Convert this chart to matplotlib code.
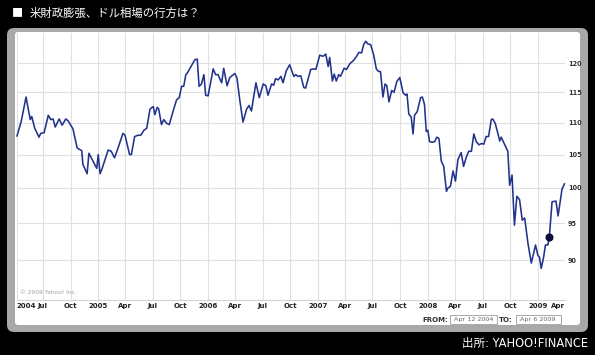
import matplotlib
matplotlib.use("Agg")
import matplotlib.pyplot as plt
import matplotlib.dates as mdates
from matplotlib.patches import FancyBboxPatch, Rectangle
from matplotlib.ticker import FixedLocator, NullLocator, FixedFormatter
import pandas as pd

plt.rcParams["font.family"] = ["DejaVu Sans"]
JP = ["Noto Sans CJK JP", "DejaVu Sans"]

# weekly USD/JPY closes (turning points)
dates = [
    "2004-04-06", "2004-04-20", "2004-05-06", "2004-05-20", "2004-05-25", "2004-06-04",
    "2004-06-18", "2004-06-24", "2004-07-05", "2004-07-19", "2004-07-27", "2004-08-04",
    "2004-08-11", "2004-08-24", "2004-09-03", "2004-09-15", "2004-09-23", "2004-10-09",
    "2004-10-23", "2004-11-07", "2004-11-11", "2004-11-25", "2004-12-01", "2004-12-18",
    "2004-12-27", "2005-01-01", "2005-01-07", "2005-01-14", "2005-02-03", "2005-02-13",
    "2005-02-24", "2005-03-07", "2005-03-24", "2005-03-31", "2005-04-15", "2005-04-21",
    "2005-05-02", "2005-05-13", "2005-05-22", "2005-06-02", "2005-06-11", "2005-06-22",
    "2005-06-29", "2005-07-03", "2005-07-08", "2005-07-16", "2005-07-21", "2005-07-30",
    "2005-08-07", "2005-08-16", "2005-08-25", "2005-09-07", "2005-09-18", "2005-09-27",
    "2005-10-05", "2005-10-12", "2005-10-19", "2005-10-23", "2005-11-05", "2005-11-18",
    "2005-11-26", "2005-12-02", "2005-12-10", "2005-12-18", "2005-12-24", "2006-01-01",
    "2006-01-18", "2006-01-26", "2006-02-03", "2006-02-15", "2006-02-22", "2006-03-05",
    "2006-03-14", "2006-03-31", "2006-04-07", "2006-04-16", "2006-04-27", "2006-05-09",
    "2006-05-17", "2006-05-25", "2006-06-09", "2006-06-20", "2006-07-03", "2006-07-12",
    "2006-07-19", "2006-07-31", "2006-08-07", "2006-08-13", "2006-08-22", "2006-08-31",
    "2006-09-07", "2006-09-18", "2006-09-29", "2006-10-13", "2006-10-19", "2006-10-27",
    "2006-11-05", "2006-11-15", "2006-11-21", "2006-12-08", "2006-12-18", "2006-12-25",
    "2007-01-07", "2007-01-18", "2007-01-27", "2007-02-04", "2007-02-09", "2007-02-18",
    "2007-02-24", "2007-03-03", "2007-03-11", "2007-03-17", "2007-03-29", "2007-04-06",
    "2007-04-17", "2007-04-28", "2007-05-07", "2007-05-17", "2007-05-26", "2007-06-02",
    "2007-06-09", "2007-06-16", "2007-06-25", "2007-07-05", "2007-07-14", "2007-07-20",
    "2007-07-28", "2007-08-05", "2007-08-12", "2007-08-18", "2007-08-25", "2007-09-03",
    "2007-09-11", "2007-09-20", "2007-09-30", "2007-10-11", "2007-10-20", "2007-10-24",
    "2007-10-30", "2007-11-07", "2007-11-13", "2007-11-18", "2007-11-27", "2007-12-08",
    "2007-12-14", "2007-12-21", "2007-12-27", "2008-01-01", "2008-01-07", "2008-01-16",
    "2008-01-24", "2008-01-31", "2008-02-07", "2008-02-15", "2008-02-23", "2008-03-03",
    "2008-03-08", "2008-03-16", "2008-03-25", "2008-04-02", "2008-04-10", "2008-04-21",
    "2008-04-29", "2008-05-08", "2008-05-16", "2008-05-25", "2008-06-02", "2008-06-10",
    "2008-06-19", "2008-06-27", "2008-07-05", "2008-07-13", "2008-07-21", "2008-07-30",
    "2008-08-04", "2008-08-12", "2008-08-21", "2008-08-27", "2008-09-01", "2008-09-09",
    "2008-09-23", "2008-09-29", "2008-10-07", "2008-10-15", "2008-10-23", "2008-11-01",
    "2008-11-10", "2008-11-18", "2008-11-29", "2008-12-10", "2008-12-24", "2009-01-01",
    "2009-01-06", "2009-01-12", "2009-01-20", "2009-01-26", "2009-02-03", "2009-02-08",
    "2009-02-17", "2009-03-02", "2009-03-09", "2009-03-22", "2009-03-30",
]
rates = [
    107.9, 110.2, 114.2, 110.5, 111.0, 109.1,
    107.7, 108.3, 108.4, 111.2, 110.5, 110.6,
    109.3, 110.6, 109.6, 110.6, 110.3, 109.0,
    106.0, 105.6, 103.5, 102.1, 105.2, 103.7,
    102.9, 105.0, 102.1, 102.9, 105.7, 105.5,
    104.5, 105.9, 108.3, 108.0, 105.0, 105.0,
    107.8, 108.0, 108.0, 108.8, 109.1, 112.2,
    112.5, 112.6, 111.3, 112.5, 112.2, 109.7,
    110.5, 109.9, 109.7, 111.9, 113.7, 114.1,
    116.0, 116.0, 118.0, 118.2, 119.4, 120.6,
    120.7, 116.0, 116.4, 118.0, 114.5, 114.4,
    119.0, 118.0, 118.0, 116.6, 119.1, 116.1,
    117.5, 118.2, 117.4, 113.8, 110.1, 112.2,
    112.8, 111.9, 116.6, 114.1, 116.4, 116.1,
    114.5, 116.4, 116.2, 117.3, 117.1, 117.7,
    116.6, 118.7, 119.7, 117.7, 118.0, 117.7,
    117.8, 115.8, 115.7, 118.9, 119.0, 118.9,
    121.4, 121.2, 121.6, 119.4, 121.0, 116.9,
    118.1, 116.9, 118.0, 117.7, 119.1, 118.9,
    119.9, 120.4, 121.0, 121.9, 121.8, 123.3,
    123.9, 123.4, 123.3, 121.5, 119.0, 118.6,
    118.5, 114.2, 116.4, 116.1, 113.4, 115.3,
    115.0, 116.8, 117.5, 114.9, 114.5, 114.7,
    111.4, 110.9, 108.2, 111.2, 111.8, 114.1,
    114.2, 113.0, 108.6, 108.8, 107.0, 106.9,
    107.0, 107.7, 107.5, 104.0, 103.2, 99.5,
    100.0, 100.2, 102.5, 101.0, 104.2, 105.3,
    103.2, 104.6, 105.5, 105.5, 108.2, 107.0,
    106.5, 106.7, 106.6, 107.8, 107.8, 110.5,
    110.6, 109.9, 108.3, 107.1, 107.7, 106.9,
    105.5, 100.4, 101.9, 94.7, 98.8, 98.3,
    95.4, 95.7, 92.2, 89.6, 92.0, 90.6,
    90.4, 88.9, 90.4, 92.0, 92.0, 93.1,
    98.0, 98.1, 96.0, 99.8, 100.6,
]

marker_date = "2009-02-08"
range_from = "Apr 12 2004"
range_to = "Apr 6 2009"

y_ticks = [90, 95, 100, 105, 110, 115, 120]
x_ticks = ["2004-04-06", "2004-07-01", "2004-10-01",
           "2005-01-01", "2005-04-01", "2005-07-01", "2005-10-01",
           "2006-01-01", "2006-04-01", "2006-07-01", "2006-10-01",
           "2007-01-01", "2007-04-01", "2007-07-01", "2007-10-01",
           "2008-01-01", "2008-04-01", "2008-07-01", "2008-10-01",
           "2009-01-01", "2009-04-01"]
x_labels = ["2004", "Jul", "Oct",
            "2005", "Apr", "Jul", "Oct",
            "2006", "Apr", "Jul", "Oct",
            "2007", "Apr", "Jul", "Oct",
            "2008", "Apr", "Jul", "Oct",
            "2009", "Apr"]

W, H = 595, 355
fig = plt.figure(figsize=(W / 100, H / 100), dpi=100, facecolor="black")

# ---- background frame (pixel coords) ----
bg = fig.add_axes([0, 0, 1, 1])
bg.set_xlim(0, W)
bg.set_ylim(H, 0)
bg.axis("off")
bg.add_patch(FancyBboxPatch((7, 28), 581, 304,
                            boxstyle="round,pad=0,rounding_size=7",
                            fc="#a8a8a8", ec="none"))
bg.add_patch(FancyBboxPatch((15, 32), 565, 293,
                            boxstyle="round,pad=0,rounding_size=3",
                            fc="white", ec="none"))

bg.text(12, 13.5, "■", color="white", fontsize=8, va="center", ha="left", family=JP)
bg.text(30, 13.5, "米財政膨張、ドル相場の行方は？", color="white", fontsize=8.2,
        va="center", ha="left", family=JP)
bg.text(588, 343, "出所: YAHOO!FINANCE", color="white", fontsize=8.3,
        va="center", ha="right", family=["DejaVu Sans", "Noto Sans CJK JP"])

# FROM / TO boxes
bg.text(448, 319.5, "FROM:", fontsize=5, fontweight="bold", color="#333333",
        ha="right", va="center")
bg.add_patch(Rectangle((449.5, 314.5), 47.5, 9.5, fc="white", ec="#9a9a9a", lw=0.6))
bg.text(473.2, 319.5, range_from, fontsize=4.6, color="#666666", ha="center", va="center")
bg.text(512.5, 319.5, "TO:", fontsize=5, fontweight="bold", color="#333333",
        ha="right", va="center")
bg.add_patch(Rectangle((515.5, 314.5), 45.5, 9.5, fc="white", ec="#9a9a9a", lw=0.6))
bg.text(538.2, 319.5, range_to, fontsize=4.6, color="#666666", ha="center", va="center")

# ---- chart ----
x = pd.to_datetime(dates)
ax = fig.add_axes([17 / W, 1 - 300 / H, (565 - 17) / W, 267 / H])
ax.set_facecolor("none")
ax.set_yscale("log")
ax.set_ylim(84.9, 125.4)
ax.set_xlim(x[0], x[-1])

ax.yaxis.set_major_locator(FixedLocator(y_ticks))
ax.yaxis.set_major_formatter(FixedFormatter([str(v) for v in y_ticks]))
ax.yaxis.set_minor_locator(NullLocator())
ax.yaxis.tick_right()

xt = mdates.date2num(pd.to_datetime(x_ticks))
ax.set_xticks(xt)
ax.set_xticklabels(x_labels)
ax.tick_params(axis="x", length=0, pad=2.5, labelsize=5.0, labelcolor="#222222")
ax.tick_params(axis="y", length=0, pad=2, labelsize=4.7, labelcolor="#333333")
for lab in ax.get_xticklabels() + ax.get_yticklabels():
    lab.set_fontweight("bold")
xl = ax.get_xticklabels()
xl[0].set_ha("left")
xl[-1].set_ha("right")

ax.grid(True, color="#e0e0e0", lw=0.8)
ax.set_axisbelow(True)
for s in ["top", "left", "right"]:
    ax.spines[s].set_visible(False)
ax.spines["bottom"].set_color("#d4d4d4")
ax.spines["bottom"].set_linewidth(0.8)

ax.plot(x, rates, color="#22338c", lw=1.15, solid_joinstyle="round", clip_on=False)
mi = dates.index(marker_date)
ax.plot(x[mi], rates[mi], "o", color="#0b0b3a", ms=4.8)

ax.text(0.006, 0.02, "© 2009 Yahoo! Inc.", transform=ax.transAxes,
        fontsize=4.2, color="#a0a0a0", ha="left", va="bottom")

fig.savefig("out.png", dpi=100, facecolor="black")
